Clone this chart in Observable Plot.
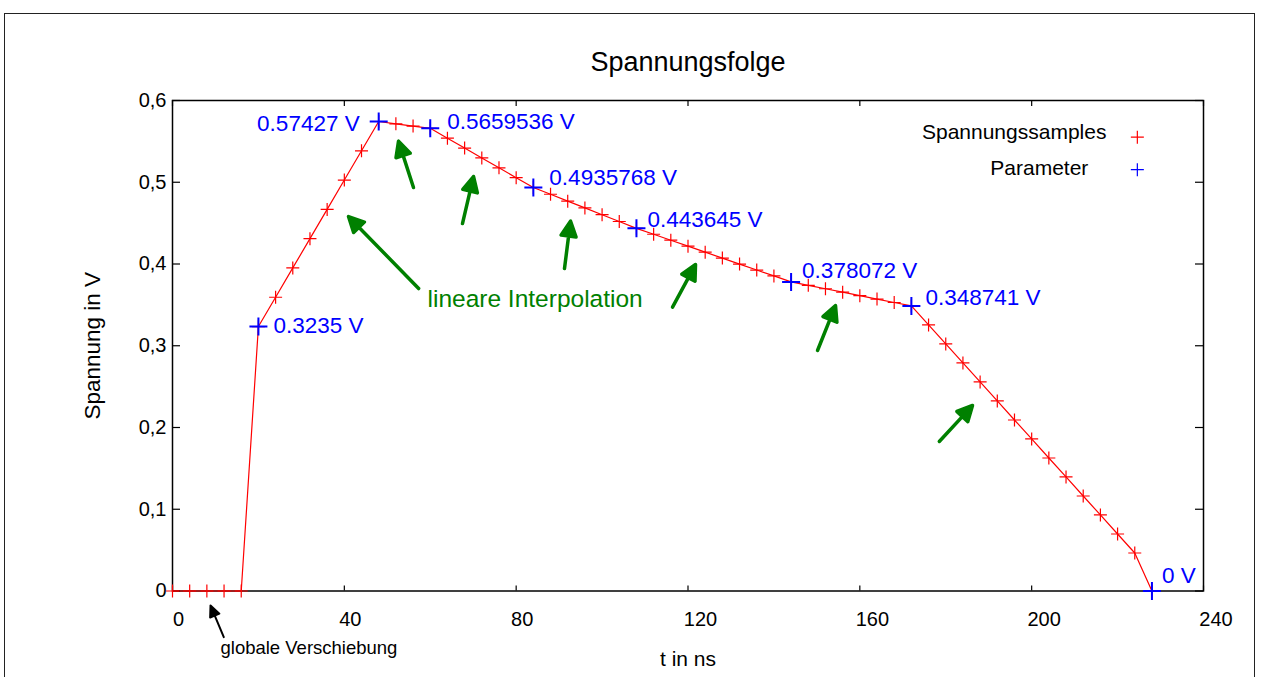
<!DOCTYPE html>
<html>
<head>
<meta charset="utf-8">
<script src="https://cdn.jsdelivr.net/npm/d3@7"></script>
<script src="https://cdn.jsdelivr.net/npm/@observablehq/plot@0.6"></script>
<style>
  html, body { margin: 0; padding: 0; background: #fff; overflow: hidden; }
  #page { position: absolute; left: 4px; top: 13px; width: 1251px; height: 720px;
          border: 1px solid #222; border-bottom: none; box-sizing: border-box; }
  #chart { position: absolute; left: 0; top: 0; }
</style>
</head>
<body>
<div id="page"></div>
<div id="chart"></div>
<script>
// Voltage samples every 4 ns (red) and the parameter points they are built from (blue)
const sampleTimes = [
  0, 4, 8, 12, 16, 20, 24, 28, 32, 36, 40, 44, 48, 52, 56, 60, 64, 68, 72, 76,
  80, 84, 88, 92, 96, 100, 104, 108, 112, 116, 120, 124, 128, 132, 136, 140, 144,
  148, 152, 156, 160, 164, 168, 172, 176, 180, 184, 188, 192, 196, 200, 204, 208,
  212, 216, 220, 224, 228
];
const sampleVolts = [
  0, 0, 0, 0, 0,
  0.3235, 0.3593, 0.3952, 0.4310, 0.4668, 0.5027, 0.5385,
  0.5743, 0.5715, 0.5687, 0.5660,
  0.5539, 0.5418, 0.5297, 0.5177, 0.5056, 0.4936,
  0.4853, 0.4769, 0.4686, 0.4603, 0.4520, 0.4436,
  0.4364, 0.4291, 0.4218, 0.4145, 0.4072, 0.3999, 0.3926, 0.3854, 0.3781,
  0.3739, 0.3697, 0.3655, 0.3613, 0.3571, 0.3529, 0.3487,
  0.3255, 0.3022, 0.2790, 0.2557, 0.2325, 0.2092, 0.1860, 0.1627, 0.1395,
  0.1162, 0.0930, 0.0697, 0.0465, 0
];
const paramTimes = [20, 48, 60, 84, 108, 144, 172, 228];
const paramVolts = [0.3235, 0.57427, 0.5659536, 0.4935768, 0.443645, 0.378072, 0.348741, 0];

const xTicks = [0, 40, 80, 120, 160, 200, 240];
const yTicks = [0, 0.1, 0.2, 0.3, 0.4, 0.5, 0.6];

// Annotation arrows (tail -> tip, in t / V units)
const greenArrowTailT = [57.3, 56.1, 67.5, 91.25, 116.4, 150.15, 178.5];
const greenArrowTailV = [0.370, 0.4936, 0.4495, 0.3945, 0.3472, 0.2942, 0.1829];
const greenArrowTipT  = [40.97, 52.61, 70.07, 92.65, 121.75, 154.34, 186.23];
const greenArrowTipV  = [0.458, 0.5502, 0.5070, 0.4524, 0.3994, 0.3492, 0.2269];
const shiftArrowTail = [11.94, -0.0565];
const shiftArrowTip  = [8.85, -0.0177];

// ---- layout ----
const W = 1261, H = 677;
const M = {top: 100, right: 58, bottom: 86.5, left: 172};
const frameW = W - M.left - M.right, frameH = H - M.top - M.bottom;
const kx = frameW / 240, ky = frameH / 0.6;   // pixels per ns, pixels per volt

const RED = "#ff0000", BLUE = "#0000ff", GREEN = "#008000";
const FONT = "'Liberation Sans', Arial, Helvetica, sans-serif";

// Thin "+" marker, half-length = dot radius
const plus = {
  draw(ctx, size) {
    const r = Math.sqrt(size / Math.PI);
    ctx.moveTo(-r, 0); ctx.lineTo(r, 0);
    ctx.moveTo(0, -r); ctx.lineTo(0, r);
  }
};
// Arrow with a filled triangular head; drawn upward from the origin, tip at (0,-l)
const arrowShape = (headLen, headHalf) => ({
  draw(ctx, l) {
    ctx.moveTo(0, 0); ctx.lineTo(0, -(l - headLen * 0.8));
    ctx.moveTo(0, -l);
    ctx.lineTo(-headHalf, -l + headLen);
    ctx.lineTo(headHalf, -l + headLen);
    ctx.closePath();
  }
});

const samples = sampleTimes.map((t, i) => ({t, v: sampleVolts[i]}));
const params = paramTimes.map((t, i) => ({t, v: paramVolts[i], label: `${paramVolts[i]} V`}));

function toVector(tailT, tailV, tipT, tipV) {
  const dxp = (tipT - tailT) * kx, dyp = -(tipV - tailV) * ky;
  return {t: tipT, v: tipV, len: Math.hypot(dxp, dyp), angle: Math.atan2(dxp, -dyp) * 180 / Math.PI};
}
const greenArrows = greenArrowTipT.map((_, i) =>
  toVector(greenArrowTailT[i], greenArrowTailV[i], greenArrowTipT[i], greenArrowTipV[i]));
const shiftArrow = [toVector(shiftArrowTail[0], shiftArrowTail[1], shiftArrowTip[0], shiftArrowTip[1])];

// Label placement next to each parameter point (pixels)
const labelPlacement = [
  {dx: 15, dy: -1, anchor: "start"},
  {dx: -19, dy: 2, anchor: "end"},
  {dx: 17, dy: -7, anchor: "start"},
  {dx: 16, dy: -10, anchor: "start"},
  {dx: 11, dy: -8.5, anchor: "start"},
  {dx: 11, dy: -11, anchor: "start"},
  {dx: 14, dy: -8, anchor: "start"},
  {dx: 10, dy: -15, anchor: "start"}
];

const yFmt = d => d === 0 ? "0" : d.toFixed(1).replace(".", ",");

const chart = Plot.plot({
  width: W,
  height: H,
  marginTop: M.top, marginRight: M.right, marginBottom: M.bottom, marginLeft: M.left,
  style: {fontFamily: FONT, fontSize: "20px", color: "#000", background: "transparent", overflow: "visible"},
  x: {domain: [0, 240], nice: false},
  y: {domain: [0, 0.6], nice: false},
  length: {type: "identity"},
  marks: [
    // inward ticks on all four sides
    Plot.ruleX(xTicks, {x: d => d, insetTop: frameH - 5, stroke: "#000", strokeWidth: 1.2}),
    Plot.ruleX(xTicks, {x: d => d, insetBottom: frameH - 6, stroke: "#000", strokeWidth: 1.2}),
    Plot.ruleY(yTicks, {y: d => d, insetRight: frameW - 8, stroke: "#000", strokeWidth: 1.2}),
    Plot.ruleY(yTicks, {y: d => d, insetLeft: frameW - 8, stroke: "#000", strokeWidth: 1.2}),
    Plot.frame({stroke: "#000", strokeWidth: 1.5}),
    // tick labels
    Plot.axisX(xTicks.slice(0, 3), {tickSize: 0, tickPadding: 21, dx: 6, fontSize: 20, label: null, tickFormat: d => String(d)}),
    Plot.axisX(xTicks.slice(3), {tickSize: 0, tickPadding: 21, dx: 12.5, fontSize: 20, label: null, tickFormat: d => String(d)}),
    Plot.axisY(yTicks, {tickSize: 0, tickPadding: 6, fontSize: 20, label: null, tickFormat: yFmt}),
    // title and axis labels
    Plot.text(["Spannungsfolge"], {text: d => d, frameAnchor: "top", lineAnchor: "middle", dy: -38, fontSize: 27}),
    Plot.text(["t in ns"], {text: d => d, frameAnchor: "bottom", lineAnchor: "middle", dy: 68, fontSize: 21}),
    Plot.text(["Spannung in V"], {text: d => d, frameAnchor: "left", textAnchor: "middle", lineAnchor: "middle", dx: -80, rotate: -90, fontSize: 22.5}),
    // sampled voltage curve
    Plot.line(samples, {x: "t", y: "v", stroke: RED, strokeWidth: 1.2}),
    Plot.dot(samples, {x: "t", y: "v", symbol: plus, r: 6.5, stroke: RED, fill: "none", strokeWidth: 1.2}),
    // parameters
    Plot.dot(params, {x: "t", y: "v", symbol: plus, r: 9, stroke: BLUE, fill: "none", strokeWidth: 2}),
    ...params.map((p, i) => Plot.text([p], {
      x: "t", y: "v", text: "label", dx: labelPlacement[i].dx, dy: labelPlacement[i].dy,
      textAnchor: labelPlacement[i].anchor, fill: BLUE, fontSize: 22.5
    })),
    // legend
    Plot.text(["Spannungssamples"], {text: d => d, x: 217.4, y: 0.5609, textAnchor: "end", fontSize: 21}),
    Plot.text(["Parameter"], {text: d => d, x: 213.2, y: 0.5172, textAnchor: "end", fontSize: 21}),
    Plot.dot([{t: 224.6, v: 0.5551}], {x: "t", y: "v", symbol: plus, r: 6.5, stroke: RED, strokeWidth: 1.2}),
    Plot.dot([{t: 224.6, v: 0.5154}], {x: "t", y: "v", symbol: plus, r: 6.5, stroke: BLUE, strokeWidth: 1.2}),
    // annotations
    Plot.vector(greenArrows, {
      x: "t", y: "v", length: "len", rotate: "angle", anchor: "end",
      shape: arrowShape(15, 7.5), stroke: GREEN, fill: GREEN, strokeWidth: 3.5, strokeLinejoin: "round"
    }),
    Plot.text(["lineare Interpolation"], {text: d => d, x: 59.36, y: 0.3566, textAnchor: "start", fill: GREEN, fontSize: 24.5}),
    Plot.vector(shiftArrow, {
      x: "t", y: "v", length: "len", rotate: "angle", anchor: "end",
      shape: arrowShape(11, 5), stroke: "#000", fill: "#000", strokeWidth: 2, strokeLinejoin: "round"
    }),
    Plot.text(["globale Verschiebung"], {text: d => d, x: 11.17, y: -0.0703, textAnchor: "start", fontSize: 18.5})
  ]
});
document.getElementById("chart").appendChild(chart);
</script>
</body>
</html>
